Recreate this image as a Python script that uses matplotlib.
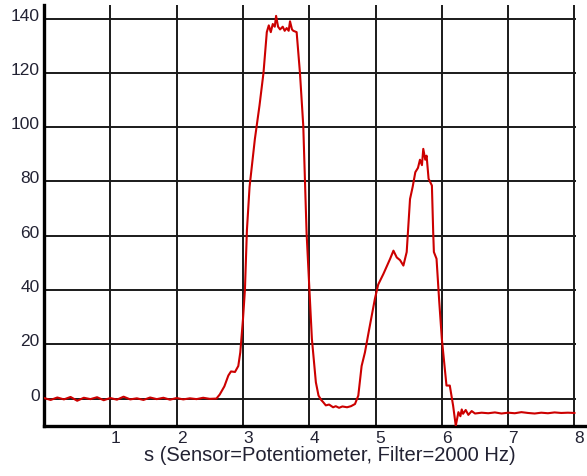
import matplotlib
matplotlib.use("Agg")
import matplotlib.pyplot as plt
import matplotlib.transforms as mtransforms

# sensor trace (time in s, value)
t_base = [0.0, 0.1, 0.2, 0.3, 0.4, 0.5, 0.6, 0.7, 0.8, 0.9, 1.0, 1.1, 1.2, 1.3,
          1.4, 1.5, 1.6, 1.7, 1.8, 1.9, 2.0, 2.1, 2.2, 2.3, 2.4, 2.5, 2.6]
v_base = [0.2, -0.5, 0.4, -0.3, 0.6, -0.8, 0.3, -0.2, 0.5, -0.6, 0.2, -0.4, 0.7, -0.3,
          0.1, -0.5, 0.4, -0.2, 0.3, -0.4, 0.2, -0.3, 0.1, -0.2, 0.3, -0.1, 0.0]

t_pulse = [2.65, 2.72, 2.78, 2.82, 2.88, 2.93, 2.96, 3.0, 3.03, 3.06, 3.1, 3.18, 3.25,
           3.31, 3.36, 3.39, 3.42, 3.45, 3.48, 3.5, 3.53, 3.56, 3.6, 3.63, 3.66, 3.69,
           3.71, 3.74, 3.76, 3.81, 3.86, 3.91, 3.96, 4.04, 4.1, 4.14, 4.18, 4.21, 4.25,
           4.3, 4.36, 4.4, 4.45, 4.5, 4.57, 4.63, 4.69, 4.74, 4.79, 4.84, 4.9, 4.99,
           5.04, 5.12, 5.22, 5.27, 5.32, 5.37, 5.42, 5.47, 5.5, 5.52, 5.56, 5.6, 5.64,
           5.67, 5.7, 5.72, 5.75, 5.77, 5.8, 5.85, 5.87, 5.88, 5.92, 5.96, 6.0, 6.04,
           6.07, 6.12, 6.17, 6.21, 6.25, 6.28, 6.3, 6.32, 6.36, 6.4, 6.45, 6.5, 6.6]
v_pulse = [1.5, 4.5, 8.5, 10.0, 9.8, 12.0, 17.0, 29.0, 40.0, 62.0, 78.0, 95.6, 108.0,
           120.0, 135.0, 137.5, 135.0, 138.0, 137.0, 141.0, 137.0, 136.0, 137.0, 135.5,
           136.5, 135.5, 139.0, 136.0, 135.5, 135.0, 120.0, 100.5, 61.0, 22.0, 6.0, 1.1,
           -0.5, -1.3, -2.5, -2.2, -3.2, -2.8, -3.4, -2.9, -3.2, -2.8, -2.0, 1.1, 12.0,
           17.0, 25.0, 36.7, 42.0, 46.0, 51.5, 54.5, 52.0, 51.0, 49.0, 54.0, 66.0, 73.5,
           78.0, 83.4, 85.0, 88.0, 86.0, 92.0, 88.0, 89.5, 81.0, 78.5, 61.0, 54.0, 51.5,
           36.0, 22.0, 12.0, 4.8, 4.8, -2.6, -10.0, -5.0, -6.5, -4.0, -5.6, -4.2, -6.0,
           -4.6, -5.5, -5.2]

t_tail = [6.7, 6.8, 6.9, 7.0, 7.1, 7.2, 7.3, 7.4, 7.5, 7.6, 7.7, 7.8, 7.9, 8.0]
v_tail = [-5.4, -5.1, -5.5, -5.2, -5.4, -5.0, -5.3, -5.5, -5.2, -5.4, -5.1, -5.3, -5.2, -5.3]

x_ticks = [1, 2, 3, 4, 5, 6, 7, 8]
y_ticks = [0, 20, 40, 60, 80, 100, 120, 140]
x_label = "s (Sensor=Potentiometer, Filter=2000 Hz)"

plt.rcParams["font.family"] = ["Liberation Sans", "DejaVu Sans"]
text_color = "#222233"

fig = plt.figure(figsize=(5.87, 4.77), dpi=100)
ax = fig.add_axes([0.075, 0.1054, 0.907, 0.882])

t = t_base + t_pulse + t_tail
v = v_base + v_pulse + v_tail
ax.plot(t, v, color="#cc0000", lw=1.5, zorder=3)

ax.set_xlim(0, 8.03)
ax.set_ylim(-10, 145)
ax.set_xticks(x_ticks)
ax.set_yticks(y_ticks)
ax.grid(True, color="#1a1a1a", lw=1.4)
ax.tick_params(length=0, labelsize=12.5, labelcolor=text_color, pad=3)

for s in ["top", "right"]:
    ax.spines[s].set_visible(False)
for s in ["left", "bottom"]:
    ax.spines[s].set_linewidth(2.4)
    ax.spines[s].set_color("black")
ax.spines["bottom"].set_bounds(0, 8.2)

# labels sit a little right / above their grid lines
dx = mtransforms.ScaledTranslation(5 / 100, 0, fig.dpi_scale_trans)
for lab in ax.get_xticklabels():
    lab.set_transform(lab.get_transform() + dx)
dy = mtransforms.ScaledTranslation(0, 5 / 100, fig.dpi_scale_trans)
for lab in ax.get_yticklabels():
    lab.set_transform(lab.get_transform() + dy)

ax.set_xlabel(x_label, fontsize=14.5, color=text_color)
ax.xaxis.set_label_coords(0.537, -0.046)

plt.savefig("out.png", dpi=100)
plt.close()
